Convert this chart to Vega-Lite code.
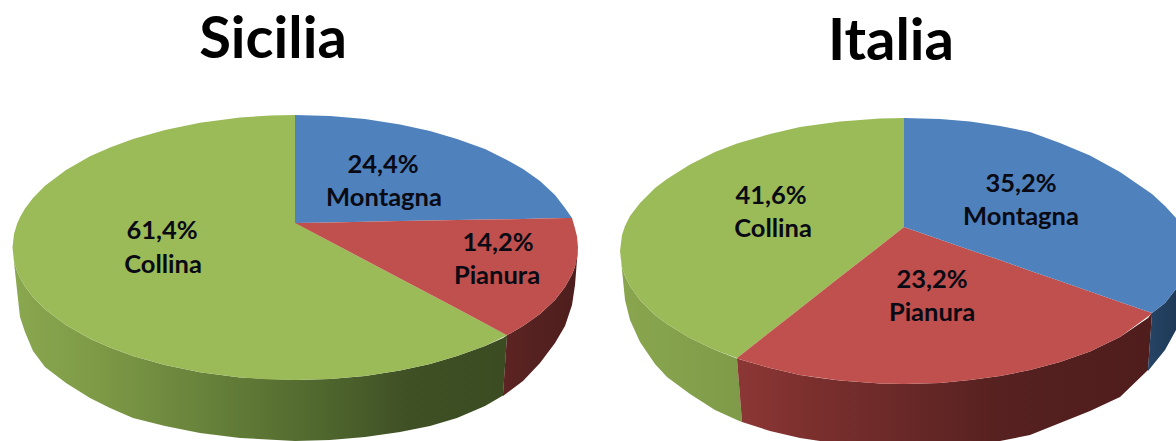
{
"$schema":"https://vega.github.io/schema/vega-lite/v6.json",
"width":1176,"height":441,"padding":0,
"autosize":{"type":"fit","contains":"padding"},
"background":"white",
"config":{"view":{"stroke":null}},
"datasets":{
"faces":[
{"pie":"Sicilia","slice":"Collina","x":12.5,"top":247.5,"bottom":247.5},{"pie":"Sicilia","slice":"Collina","x":14,"top":233.9,"bottom":261.1},{"pie":"Sicilia","slice":"Collina","x":17,"top":224,"bottom":271},{"pie":"Sicilia","slice":"Collina","x":20,"top":217.2,"bottom":277.8},{"pie":"Sicilia","slice":"Collina","x":25,"top":208.5,"bottom":286.5},{"pie":"Sicilia","slice":"Collina","x":33,"top":197.9,"bottom":297.1},{"pie":"Sicilia","slice":"Collina","x":45,"top":185.8,"bottom":309.2},{"pie":"Sicilia","slice":"Collina","x":66,"top":169.9,"bottom":325.1},{"pie":"Sicilia","slice":"Collina","x":90,"top":156.3,"bottom":338.7},{"pie":"Sicilia","slice":"Collina","x":110,"top":147.4,"bottom":347.6},{"pie":"Sicilia","slice":"Collina","x":133,"top":139,"bottom":356},{"pie":"Sicilia","slice":"Collina","x":165,"top":129.9,"bottom":365.1},{"pie":"Sicilia","slice":"Collina","x":200,"top":122.7,"bottom":372.3},{"pie":"Sicilia","slice":"Collina","x":240,"top":117.5,"bottom":377.5},{"pie":"Sicilia","slice":"Collina","x":270,"top":115.5,"bottom":379.5},{"pie":"Sicilia","slice":"Collina","x":295,"top":115,"bottom":380},{"pie":"Sicilia","slice":"Collina","x":295.5,"top":223,"bottom":380},{"pie":"Sicilia","slice":"Collina","x":330,"top":241.5,"bottom":379},{"pie":"Sicilia","slice":"Collina","x":365,"top":260,"bottom":376},{"pie":"Sicilia","slice":"Collina","x":400,"top":278.5,"bottom":370.5},{"pie":"Sicilia","slice":"Collina","x":430,"top":294.3,"bottom":364},{"pie":"Sicilia","slice":"Collina","x":457,"top":308.6,"bottom":356},{"pie":"Sicilia","slice":"Collina","x":485,"top":323.4,"bottom":346},{"pie":"Sicilia","slice":"Collina","x":507,"top":335,"bottom":335.3},
{"pie":"Sicilia","slice":"Montagna","x":295,"top":115,"bottom":223},{"pie":"Sicilia","slice":"Montagna","x":330,"top":116,"bottom":222.4},{"pie":"Sicilia","slice":"Montagna","x":365,"top":119,"bottom":221.7},{"pie":"Sicilia","slice":"Montagna","x":400,"top":124.5,"bottom":221.1},{"pie":"Sicilia","slice":"Montagna","x":430,"top":131,"bottom":220.6},{"pie":"Sicilia","slice":"Montagna","x":457,"top":139,"bottom":220.1},{"pie":"Sicilia","slice":"Montagna","x":485,"top":149,"bottom":219.6},{"pie":"Sicilia","slice":"Montagna","x":507,"top":160,"bottom":219.2},{"pie":"Sicilia","slice":"Montagna","x":523,"top":169,"bottom":218.9},{"pie":"Sicilia","slice":"Montagna","x":540,"top":181,"bottom":218.6},{"pie":"Sicilia","slice":"Montagna","x":555,"top":195,"bottom":218.3},{"pie":"Sicilia","slice":"Montagna","x":565,"top":208,"bottom":218.1},{"pie":"Sicilia","slice":"Montagna","x":572,"top":218,"bottom":218},
{"pie":"Sicilia","slice":"Pianura","x":295,"top":223,"bottom":223},{"pie":"Sicilia","slice":"Pianura","x":330,"top":222.4,"bottom":241.5},{"pie":"Sicilia","slice":"Pianura","x":365,"top":221.7,"bottom":260},{"pie":"Sicilia","slice":"Pianura","x":400,"top":221.1,"bottom":278.5},{"pie":"Sicilia","slice":"Pianura","x":430,"top":220.6,"bottom":294.3},{"pie":"Sicilia","slice":"Pianura","x":457,"top":220.1,"bottom":308.6},{"pie":"Sicilia","slice":"Pianura","x":485,"top":219.6,"bottom":323.4},{"pie":"Sicilia","slice":"Pianura","x":507,"top":219.2,"bottom":335.3},{"pie":"Sicilia","slice":"Pianura","x":523,"top":218.9,"bottom":326},{"pie":"Sicilia","slice":"Pianura","x":540,"top":218.6,"bottom":314},{"pie":"Sicilia","slice":"Pianura","x":555,"top":218.3,"bottom":300},{"pie":"Sicilia","slice":"Pianura","x":565,"top":218.1,"bottom":287},{"pie":"Sicilia","slice":"Pianura","x":572,"top":218,"bottom":274.5},{"pie":"Sicilia","slice":"Pianura","x":575,"top":228.5,"bottom":266.5},{"pie":"Sicilia","slice":"Pianura","x":577,"top":236.5,"bottom":258.5},{"pie":"Sicilia","slice":"Pianura","x":578,"top":247.5,"bottom":247.5},
{"pie":"Italia","slice":"Collina","x":620,"top":251,"bottom":251},{"pie":"Italia","slice":"Collina","x":622,"top":235,"bottom":267},{"pie":"Italia","slice":"Collina","x":625,"top":226,"bottom":276},{"pie":"Italia","slice":"Collina","x":630,"top":216,"bottom":286},{"pie":"Italia","slice":"Collina","x":640,"top":203,"bottom":300},{"pie":"Italia","slice":"Collina","x":655,"top":188,"bottom":315},{"pie":"Italia","slice":"Collina","x":667,"top":179,"bottom":324},{"pie":"Italia","slice":"Collina","x":690,"top":164.5,"bottom":338},{"pie":"Italia","slice":"Collina","x":715,"top":152,"bottom":350},{"pie":"Italia","slice":"Collina","x":737,"top":143.5,"bottom":358},{"pie":"Italia","slice":"Collina","x":770,"top":134,"bottom":332},{"pie":"Italia","slice":"Collina","x":800,"top":127,"bottom":308.6},{"pie":"Italia","slice":"Collina","x":840,"top":121.4,"bottom":277},{"pie":"Italia","slice":"Collina","x":880,"top":118.5,"bottom":246},{"pie":"Italia","slice":"Collina","x":904,"top":118,"bottom":227},
{"pie":"Italia","slice":"Pianura","x":737,"top":358,"bottom":358.6},{"pie":"Italia","slice":"Pianura","x":770,"top":332,"bottom":368},{"pie":"Italia","slice":"Pianura","x":800,"top":308.6,"bottom":375},{"pie":"Italia","slice":"Pianura","x":840,"top":277,"bottom":380.6},{"pie":"Italia","slice":"Pianura","x":880,"top":246,"bottom":383.5},{"pie":"Italia","slice":"Pianura","x":904,"top":227,"bottom":384},{"pie":"Italia","slice":"Pianura","x":940,"top":239.5,"bottom":383},{"pie":"Italia","slice":"Pianura","x":970,"top":250,"bottom":380},{"pie":"Italia","slice":"Pianura","x":1000,"top":260,"bottom":376},{"pie":"Italia","slice":"Pianura","x":1030,"top":270.7,"bottom":370},{"pie":"Italia","slice":"Pianura","x":1060,"top":281,"bottom":362},{"pie":"Italia","slice":"Pianura","x":1090,"top":291.5,"bottom":351.5},{"pie":"Italia","slice":"Pianura","x":1120,"top":302,"bottom":337},{"pie":"Italia","slice":"Pianura","x":1152,"top":313,"bottom":313.5},
{"pie":"Italia","slice":"Montagna","x":904,"top":118,"bottom":227},{"pie":"Italia","slice":"Montagna","x":940,"top":119,"bottom":239.5},{"pie":"Italia","slice":"Montagna","x":970,"top":121.6,"bottom":250},{"pie":"Italia","slice":"Montagna","x":1000,"top":126,"bottom":260},{"pie":"Italia","slice":"Montagna","x":1030,"top":132,"bottom":270.7},{"pie":"Italia","slice":"Montagna","x":1060,"top":143,"bottom":281},{"pie":"Italia","slice":"Montagna","x":1090,"top":155.5,"bottom":291.5},{"pie":"Italia","slice":"Montagna","x":1120,"top":172,"bottom":302},{"pie":"Italia","slice":"Montagna","x":1152,"top":194,"bottom":313},{"pie":"Italia","slice":"Montagna","x":1165,"top":206,"bottom":303},{"pie":"Italia","slice":"Montagna","x":1176,"top":218,"bottom":289}
],
"walls":[
{"part":"sc","x":12.5,"top":247.5,"bottom":247.5},{"part":"sc","x":14,"top":261.1,"bottom":262},{"part":"sc","x":17,"top":271,"bottom":290},{"part":"sc","x":20,"top":277.8,"bottom":317},{"part":"sc","x":25,"top":286.5,"bottom":332},{"part":"sc","x":33,"top":297.1,"bottom":351},{"part":"sc","x":45,"top":309.2,"bottom":367},{"part":"sc","x":66,"top":325.1,"bottom":383},{"part":"sc","x":90,"top":338.7,"bottom":398},{"part":"sc","x":110,"top":347.6,"bottom":408},{"part":"sc","x":133,"top":356,"bottom":418},{"part":"sc","x":165,"top":365.1,"bottom":426},{"part":"sc","x":200,"top":372.3,"bottom":433},{"part":"sc","x":240,"top":377.5,"bottom":438},{"part":"sc","x":295,"top":380,"bottom":441},{"part":"sc","x":330,"top":379,"bottom":440},{"part":"sc","x":365,"top":376,"bottom":437},{"part":"sc","x":400,"top":370.5,"bottom":432},{"part":"sc","x":430,"top":364,"bottom":426},{"part":"sc","x":457,"top":356,"bottom":418},{"part":"sc","x":485,"top":346,"bottom":406},{"part":"sc","x":503,"top":338,"bottom":395.5},{"part":"sc","x":507,"top":335.3,"bottom":336},
{"part":"sp","x":503,"top":394,"bottom":396},{"part":"sp","x":507,"top":335.3,"bottom":393},{"part":"sp","x":523,"top":326,"bottom":381},{"part":"sp","x":540,"top":314,"bottom":363},{"part":"sp","x":555,"top":300,"bottom":343},{"part":"sp","x":565,"top":287,"bottom":326},{"part":"sp","x":572,"top":274.5,"bottom":305},{"part":"sp","x":575,"top":266.5,"bottom":285},{"part":"sp","x":578,"top":247.5,"bottom":247.5},
{"part":"ic","x":620,"top":251,"bottom":251},{"part":"ic","x":622,"top":267,"bottom":270},{"part":"ic","x":625,"top":276,"bottom":300},{"part":"ic","x":630,"top":286,"bottom":320},{"part":"ic","x":640,"top":300,"bottom":342},{"part":"ic","x":655,"top":315,"bottom":364},{"part":"ic","x":667,"top":324,"bottom":377},{"part":"ic","x":690,"top":338,"bottom":394},{"part":"ic","x":715,"top":350,"bottom":410},{"part":"ic","x":737,"top":358.6,"bottom":420},{"part":"ic","x":742,"top":421.5,"bottom":422},
{"part":"ip","x":737,"top":358.6,"bottom":359},{"part":"ip","x":742,"top":360,"bottom":422},{"part":"ip","x":770,"top":368,"bottom":431},{"part":"ip","x":800,"top":375,"bottom":438},{"part":"ip","x":820,"top":378,"bottom":441},{"part":"ip","x":840,"top":380.6,"bottom":441},{"part":"ip","x":880,"top":383.5,"bottom":441},{"part":"ip","x":904,"top":384,"bottom":441},{"part":"ip","x":940,"top":383,"bottom":441},{"part":"ip","x":970,"top":380,"bottom":441},{"part":"ip","x":1000,"top":376,"bottom":441},{"part":"ip","x":1030,"top":370,"bottom":435},{"part":"ip","x":1060,"top":362,"bottom":423},{"part":"ip","x":1090,"top":351.5,"bottom":411},{"part":"ip","x":1120,"top":337,"bottom":397},{"part":"ip","x":1148,"top":318,"bottom":370},{"part":"ip","x":1152,"top":313,"bottom":314},
{"part":"im","x":1148,"top":369,"bottom":371},{"part":"im","x":1152,"top":313,"bottom":366},{"part":"im","x":1165,"top":303,"bottom":350},{"part":"im","x":1176,"top":289,"bottom":330}
],
"labels":[
{"kind":"value","text":"24,4%","x":383,"y":165},{"kind":"name","text":"Montagna","x":384,"y":198},
{"kind":"value","text":"14,2%","x":498,"y":243},{"kind":"name","text":"Pianura","x":497,"y":276},
{"kind":"value","text":"61,4%","x":162,"y":231},{"kind":"name","text":"Collina","x":163,"y":265},
{"kind":"value","text":"41,6%","x":771,"y":196},{"kind":"name","text":"Collina","x":773,"y":229},
{"kind":"value","text":"35,2%","x":1021,"y":184},{"kind":"name","text":"Montagna","x":1021,"y":217},
{"kind":"value","text":"23,2%","x":932,"y":280},{"kind":"name","text":"Pianura","x":932,"y":313}
],
"titles":[{"text":"Sicilia","x":273,"y":41},{"text":"Italia","x":891,"y":43}]
},
"encoding":{
"x":{"field":"x","type":"quantitative","scale":{"domain":[0,1176],"nice":false,"zero":false},"axis":null},
"y":{"field":"top","type":"quantitative","stack":null,"scale":{"domain":[441,0],"nice":false,"zero":false},"axis":null},
"y2":{"field":"bottom"}
},
"layer":[
{"data":{"name":"walls"},"transform":[{"filter":"datum.part==='sc'"}],
 "mark":{"type":"area","color":{"gradient":"linear","x1":0,"x2":1,"y1":0,"y2":0,"stops":[{"offset":0,"color":"#8aa84f"},{"offset":0.18,"color":"#7d9946"},{"offset":0.4,"color":"#66813a"},{"offset":0.6,"color":"#526a2f"},{"offset":0.8,"color":"#3f5025"},{"offset":1,"color":"#3c4c22"}]}}},
{"data":{"name":"walls"},"transform":[{"filter":"datum.part==='sp'"}],
 "mark":{"type":"area","color":{"gradient":"linear","x1":0,"x2":1,"y1":0,"y2":0,"stops":[{"offset":0,"color":"#5c2423"},{"offset":1,"color":"#4c1e1d"}]}}},
{"data":{"name":"walls"},"transform":[{"filter":"datum.part==='ic'"}],
 "mark":{"type":"area","color":{"gradient":"linear","x1":0,"x2":1,"y1":0,"y2":0,"stops":[{"offset":0,"color":"#89a64e"},{"offset":1,"color":"#7f9b49"}]}}},
{"data":{"name":"walls"},"transform":[{"filter":"datum.part==='ip'"}],
 "mark":{"type":"area","color":{"gradient":"linear","x1":0,"x2":1,"y1":0,"y2":0,"stops":[{"offset":0,"color":"#8c3735"},{"offset":0.19,"color":"#7a2f2d"},{"offset":0.39,"color":"#6a2928"},{"offset":0.63,"color":"#562120"},{"offset":1,"color":"#4f1d1c"}]}}},
{"data":{"name":"walls"},"transform":[{"filter":"datum.part==='im'"}],
 "mark":{"type":"area","color":{"gradient":"linear","x1":0,"x2":1,"y1":0,"y2":0,"stops":[{"offset":0,"color":"#274466"},{"offset":1,"color":"#1f3a58"}]}}},
{"data":{"name":"faces"},"mark":{"type":"area"},
 "encoding":{
  "color":{"field":"slice","type":"nominal","legend":null,"scale":{"domain":["Montagna","Pianura","Collina"],"range":["#4f81bd","#c0504d","#9bbb59"]}},
  "detail":{"field":"pie"}}},
{"data":{"name":"labels"},"mark":{"type":"text","font":"Lato","fontWeight":"bold","fontSize":25.5,"color":"#0a0a14","align":"center","baseline":"middle"},
 "encoding":{"y":{"field":"y","type":"quantitative"},"y2":null,"text":{"field":"text"}}},
{"data":{"name":"titles"},"mark":{"type":"text","font":"Lato","fontWeight":"bold","fontSize":58,"color":"#000000","align":"center","baseline":"middle"},
 "encoding":{"y":{"field":"y","type":"quantitative"},"y2":null,"text":{"field":"text"}}}
]
}
